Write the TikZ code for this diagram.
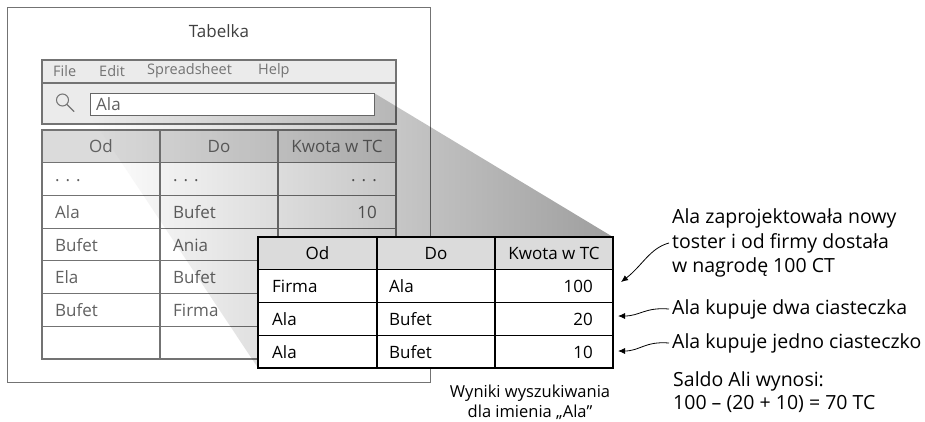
\documentclass[tikz,border=0pt]{standalone}
\usepackage{fontspec}
\setmainfont{Open Sans}
\usetikzlibrary{arrows.meta,calc}
\begin{document}
\begin{tikzpicture}[x=1pt,y=-1pt,
  oldline/.style={draw=black!55, line width=1.1pt},
  oldtxt/.style={text=black!62, font=\fontsize{17}{20}\selectfont, inner sep=0pt},
  menutxt/.style={text=black!55, font=\fontsize{14.5}{17}\selectfont, inner sep=0pt, anchor=west},
  newtxt/.style={text=black, font=\fontsize{17}{20}\selectfont, inner sep=0pt},
  newline/.style={draw=black, line width=1.3pt},
  anntxt/.style={font=\fontsize{19.5}{24.5}\selectfont, align=left, anchor=west, inner sep=3pt},
  annarrow/.style={-{Latex[length=7pt,width=6pt]}, line width=0.8pt}
]
\useasboundingbox (0,0) rectangle (925,421);

% outer window
\draw[draw=black!55, fill=white, line width=1pt] (7,7) rectangle (430,382);
\node[text=black!75, font=\fontsize{17}{20}\selectfont] (title) at (219,31) {Tabelka};

% menu bar and search panel
\draw[oldline, fill=black!8] (42,60) rectangle (396,83);
\draw[oldline, fill=black!8] (42,83) rectangle (396,124);
\node[menutxt] (mFile) at (53,71) {File};
\node[menutxt] (mEdit) at (99,71) {Edit};
\node[menutxt] (mSheet) at (147,71) {Spreadsheet};
\node[menutxt] (mHelp) at (258,71) {Help};

% old table
\fill[black!14] (42,130) rectangle (396,163);
\foreach \k in {1,...,6} {
  \draw[oldline] (42,{130+32.71*\k}) -- (396,{130+32.71*\k});
}
\draw[oldline] (160,130) -- (160,359);
\draw[oldline] (278,130) -- (278,359);
\draw[oldline] (42,130) rectangle (396,359);

\node[oldtxt] (oh1) at (101,146.5) {Od};
\node[oldtxt] (oh2) at (219,146.5) {Do};
\node[oldtxt] (oh3) at (337,146.5) {Kwota w TC};

\node[oldtxt, anchor=west] (o11) at (55,181) {.\hspace{6pt}.\hspace{6pt}.};
\node[oldtxt, anchor=west] (o12) at (173,181) {.\hspace{6pt}.\hspace{6pt}.};
\node[oldtxt, anchor=east] (o13) at (377,181) {.\hspace{6pt}.\hspace{6pt}.};

\node[oldtxt, anchor=west] (o21) at (55,212) {Ala};
\node[oldtxt, anchor=west] (o22) at (173,212) {Bufet};
\node[oldtxt, anchor=east] (o23) at (377,212) {10};

\node[oldtxt, anchor=west] (o31) at (55,245) {Bufet};
\node[oldtxt, anchor=west] (o32) at (173,245) {Ania};

\node[oldtxt, anchor=west] (o41) at (55,277) {Ela};
\node[oldtxt, anchor=west] (o42) at (173,277) {Bufet};

\node[oldtxt, anchor=west] (o51) at (55,310) {Bufet};
\node[oldtxt, anchor=west] (o52) at (173,310) {Firma};

% projection shadow
\begin{scope}[blend mode=multiply]
\shade[left color=white, right color=black!38]
  (90,93) -- (374,93) -- (613,237) -- (613,368) -- (258,368) -- (90,115) -- cycle;
\end{scope}

% search box and icon
\draw[draw=black!60, fill=white, line width=1pt] (90,93) rectangle (374,115);
\node[oldtxt, anchor=west] (search) at (96,104) {Ala};
\draw[black!55, line width=1pt] (62.5,100) circle (6);
\draw[black!55, line width=1.3pt, line cap=round] (67,104.5) -- (74,111.5);

% result table
\fill[white] (258,237) rectangle (613,368);
\fill[black!14] (258,237) rectangle (613,269);
\draw[newline] (258,269.75) -- (613,269.75);
\draw[newline] (258,302.5) -- (613,302.5);
\draw[newline] (258,335.25) -- (613,335.25);
\draw[newline] (377,237) -- (377,368);
\draw[newline] (495,237) -- (495,368);
\draw[draw=black, line width=2pt] (258,237) rectangle (613,368);

\node[newtxt] (nh1) at (317.5,253.5) {Od};
\node[newtxt] (nh2) at (436,253.5) {Do};
\node[newtxt] (nh3) at (554,253.5) {Kwota w TC};

\node[newtxt, anchor=west] (n11) at (272,286) {Firma};
\node[newtxt, anchor=west] (n12) at (389,286) {Ala};
\node[newtxt, anchor=east] (n13) at (593,286) {100};

\node[newtxt, anchor=west] (n21) at (272,319) {Ala};
\node[newtxt, anchor=west] (n22) at (389,319) {Bufet};
\node[newtxt, anchor=east] (n23) at (593,319) {20};

\node[newtxt, anchor=west] (n31) at (272,352) {Ala};
\node[newtxt, anchor=west] (n32) at (389,352) {Bufet};
\node[newtxt, anchor=east] (n33) at (593,352) {10};

% caption
\node[font=\fontsize{16.5}{20}\selectfont, align=center, inner sep=0pt] (caption) at (530,402)
  {Wyniki wyszukiwania\\dla imienia „Ala”};

% annotations
\node[anntxt] (ann1) at (669,243) {Ala zaprojektowała nowy\\toster i od firmy dostała\\w nagrodę 100 CT};
\node[anntxt] (ann2) at (669,309) {Ala kupuje dwa ciasteczka};
\node[anntxt] (ann3) at (669,343) {Ala kupuje jedno ciasteczko};
\node[font=\fontsize{19.5}{23}\selectfont, align=left, anchor=west, inner sep=0pt] (saldo) at (673,392.5)
  {Saldo Ali wynosi:\\100 – (20 + 10) = 70 TC};

\coordinate (tip1) at (621,282);
\coordinate (tip2) at (618,316);
\coordinate (tip3) at (618,351);

\draw[annarrow] (ann1.west) .. controls (650,248) and (642,266) .. (tip1);
\draw[annarrow] (ann2.west) .. controls (645,307) and (640,316) .. (tip2);
\draw[annarrow] (ann3.west) .. controls (645,341) and (640,351) .. (tip3);
\end{tikzpicture}
\end{document}
